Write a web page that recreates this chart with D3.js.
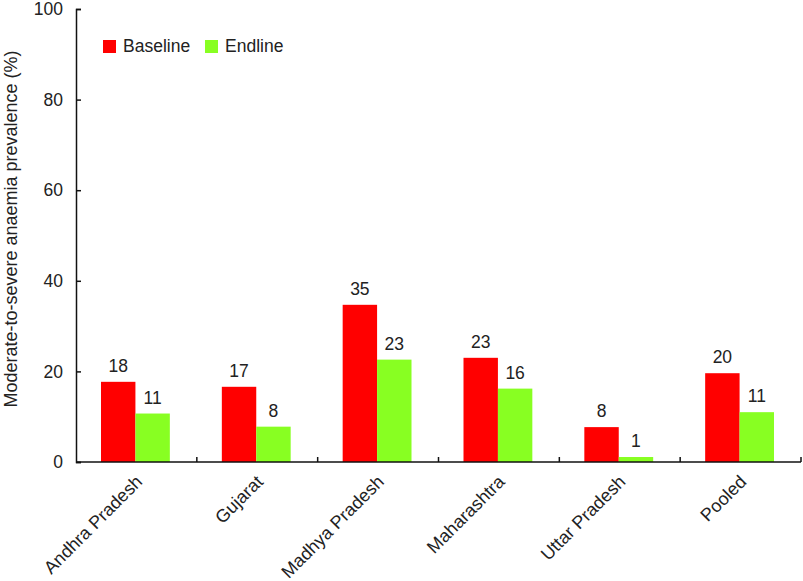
<!DOCTYPE html>
<html>
<head>
<meta charset="utf-8">
<script src="https://cdn.jsdelivr.net/npm/d3@7"></script>
<style>
  body { margin: 0; background: #fff; }
  svg { font-family: "Liberation Sans", Arial, sans-serif; }
</style>
</head>
<body>
<svg id="chart"></svg>
<script>
const categories = ['Andhra Pradesh', 'Gujarat', 'Madhya Pradesh', 'Maharashtra', 'Uttar Pradesh', 'Pooled'];
const baseline = [17.7, 16.6, 34.7, 23.0, 7.7, 19.6];
const endline = [10.7, 7.8, 22.6, 16.2, 1.1, 11.0];
const baselineLabels = ['18', '17', '35', '23', '8', '20'];
const endlineLabels = ['11', '8', '23', '16', '1', '11'];
const seriesNames = ['Baseline', 'Endline'];
const colors = ['#ff0000', '#88ff22'];
const yTicks = [0, 20, 40, 60, 80, 100];

const width = 803, height = 581;
const margin = {top: 9, right: 2, bottom: 119, left: 76};
const innerW = width - margin.left - margin.right;
const innerH = height - margin.top - margin.bottom;

const svg = d3.select('#chart').attr('width', width).attr('height', height);
const g = svg.append('g').attr('transform', 'translate(' + margin.left + ',' + margin.top + ')');

const x = d3.scaleBand().domain(categories).range([0, innerW]).paddingInner(0).paddingOuter(0);
const xs = d3.scaleBand().domain(seriesNames).range([25, x.bandwidth() - 27]);
const y = d3.scaleLinear().domain([0, 100]).range([innerH, 0]);

const rows = categories.map((c, i) => ({
  cat: c,
  vals: [
    {s: 'Baseline', v: baseline[i], lab: baselineLabels[i], col: colors[0]},
    {s: 'Endline', v: endline[i], lab: endlineLabels[i], col: colors[1]}
  ]
}));

const groups = g.selectAll('.grp').data(rows).enter().append('g')
  .attr('transform', d => 'translate(' + x(d.cat) + ',0)');

groups.selectAll('rect').data(d => d.vals).enter().append('rect')
  .attr('x', d => xs(d.s))
  .attr('width', xs.bandwidth())
  .attr('y', d => y(d.v))
  .attr('height', d => y(0) - y(d.v))
  .attr('fill', d => d.col);

groups.selectAll('text').data(d => d.vals).enter().append('text')
  .attr('x', d => xs(d.s) + xs.bandwidth() / 2)
  .attr('y', d => y(d.v) - 10)
  .attr('text-anchor', 'middle')
  .attr('font-size', '17.5px')
  .attr('fill', '#222')
  .text(d => d.lab);

// y axis
const yAxis = g.append('g')
  .call(d3.axisLeft(y).tickValues(yTicks).tickSize(-5).tickPadding(13));
yAxis.select('.domain').attr('stroke', '#111').attr('stroke-width', 1.5);
yAxis.selectAll('.tick line').attr('stroke', '#111').attr('stroke-width', 1.5);
yAxis.selectAll('.tick text').attr('font-size', '17.5px').attr('fill', '#222')
  .attr('font-family', '"Liberation Sans", Arial, sans-serif');

// x axis with boundary ticks
const xAxisG = g.append('g').attr('transform', 'translate(0,' + innerH + ')');
xAxisG.append('line').attr('x1', 0).attr('x2', innerW).attr('stroke', '#111').attr('stroke-width', 1.5);
const bounds = d3.range(1, categories.length + 1).map(i => i * x.step());
xAxisG.selectAll('.bt').data(bounds).enter().append('line')
  .attr('x1', d => d).attr('x2', d => d).attr('y1', 0).attr('y2', -5)
  .attr('stroke', '#111').attr('stroke-width', 1.5);
xAxisG.selectAll('.xl').data(categories).enter().append('text')
  .attr('transform', d => 'translate(' + (x(d) + x.bandwidth() / 2 - 2) + ',12) rotate(-45)')
  .attr('text-anchor', 'end')
  .attr('dy', '0.7em')
  .attr('font-size', '18px')
  .attr('fill', '#222')
  .text(d => d);

// y title
svg.append('text')
  .attr('transform', 'translate(17,' + 229 + ') rotate(-90)')
  .attr('text-anchor', 'middle')
  .attr('font-size', '18px')
  .attr('fill', '#222')
  .text('Moderate-to-severe anaemia prevalence (%)');

// legend
const legend = svg.append('g').attr('transform', 'translate(103,40)');
const li = legend.selectAll('g').data(seriesNames).enter().append('g')
  .attr('transform', (d, i) => 'translate(' + (i * 102) + ',0)');
li.append('rect').attr('width', 13).attr('height', 13).attr('fill', (d, i) => colors[i]);
li.append('text').attr('x', 20).attr('y', 12).attr('font-size', '17.5px').attr('fill', '#222').text(d => d);
</script>
</body>
</html>
